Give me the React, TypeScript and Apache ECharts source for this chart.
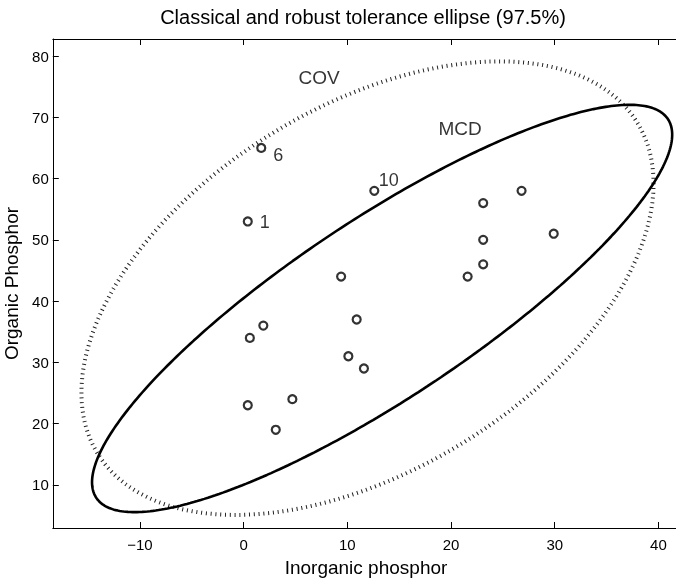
import React, { useEffect, useRef } from "react";
import * as echarts from "echarts";

// Data: phosphor content of soil samples
const inorganicPhosphor = [0.4, 0.4, 3.1, 0.6, 4.7, 1.7, 9.4, 10.1, 11.6, 12.6, 10.9, 23.1, 23.1, 21.6, 23.1, 1.9, 26.8, 29.9];
const organicPhosphor = [53, 23, 19, 34, 24, 65, 44, 31, 29, 58, 37, 46, 50, 44, 56, 36, 58, 51];
// observations flagged (and excluded from the robust MCD estimate)
const outlierIds = [1, 6, 10];
const toleranceLevel = 0.975;

const xTicks = [-10, 0, 10, 20, 30, 40];
const yTicks = [10, 20, 30, 40, 50, 60, 70, 80];

const X_MIN = -18.4;
const X_MAX = 42;
const Y_MIN = 2.97;
const Y_MAX = 82.78;

// label placement (pixels) for the flagged observations
const idLabelOffsets: Record<number, [number, number]> = {
  1: [17, 1],
  6: [17, 7.5],
  10: [14.5, -10.7],
};

const FONT = "'Liberation Sans', Arial, Helvetica, sans-serif";

function meanCov(xs: number[], ys: number[]) {
  const n = xs.length;
  const mx = xs.reduce((a, b) => a + b, 0) / n;
  const my = ys.reduce((a, b) => a + b, 0) / n;
  let sxx = 0, sxy = 0, syy = 0;
  for (let i = 0; i < n; i++) {
    sxx += (xs[i] - mx) ** 2;
    syy += (ys[i] - my) ** 2;
    sxy += (xs[i] - mx) * (ys[i] - my);
  }
  return { mx, my, sxx: sxx / (n - 1), sxy: sxy / (n - 1), syy: syy / (n - 1) };
}

function ellipsePoints(e: { mx: number; my: number; sxx: number; sxy: number; syy: number }, c2: number, steps = 400) {
  const a = Math.sqrt(e.sxx);
  const b = e.sxy / a;
  const d = Math.sqrt(e.syy - b * b);
  const r = Math.sqrt(c2);
  const pts: number[][] = [];
  for (let k = 0; k <= steps; k++) {
    const t = (2 * Math.PI * k) / steps;
    const u = Math.cos(t), v = Math.sin(t);
    pts.push([e.mx + r * a * u, e.my + r * (b * u + d * v)]);
  }
  return pts;
}

export default function App() {
  const ref = useRef<HTMLDivElement>(null);
  useEffect(() => {
    if (!ref.current) return;
    const chart = echarts.init(ref.current, undefined, { renderer: "svg" });
    const chi2 = -2 * Math.log(1 - toleranceLevel);
    const classical = meanCov(inorganicPhosphor, organicPhosphor);
    const keepX = inorganicPhosphor.filter((_, i) => !outlierIds.includes(i + 1));
    const keepY = organicPhosphor.filter((_, i) => !outlierIds.includes(i + 1));
    const robust = meanCov(keepX, keepY);
    const covEllipse = ellipsePoints(classical, chi2);
    const mcdEllipse = ellipsePoints(robust, chi2);

    const pointData = inorganicPhosphor.map((x, i) => {
      const id = i + 1;
      const item: any = { value: [x, organicPhosphor[i]] };
      if (outlierIds.includes(id)) {
        item.label = {
          show: true,
          formatter: String(id),
          position: "inside",
          offset: idLabelOffsets[id],
          color: "#000",
          textBorderWidth: 0,
          fontSize: 18,
          fontFamily: FONT,
        };
      }
      return item;
    });

    const fmt = (v: number) => String(v).replace("-", "\u2212");
    const baseAxis = {
      type: "value" as const,
      axisLine: { show: true, onZero: false, lineStyle: { color: "#000", width: 1 } },
      splitLine: { show: false },
    };

    chart.setOption({
      animation: false,
      grid: { left: 52.8, right: -3.2, top: 39, bottom: 51, containLabel: false, outerBoundsMode: "none" },
      graphic: [
        {
          type: "text",
          x: 363,
          y: 16.5,
          style: {
            text: "Classical and robust tolerance ellipse (97.5%)",
            fontSize: 20,
            fontFamily: FONT,
            fill: "#000",
            align: "center",
            verticalAlign: "middle",
          },
        },
      ],
      xAxis: [
        {
          ...baseAxis,
          min: X_MIN,
          max: X_MAX,
          position: "bottom",
          name: "Inorganic phosphor",
          nameLocation: "middle",
          nameGap: 30,
          nameTextStyle: { color: "#000", fontSize: 19, fontFamily: FONT },
          axisTick: { show: true, inside: true, length: 6, customValues: xTicks, lineStyle: { color: "#000" } },
          axisLabel: { show: true, customValues: xTicks, formatter: fmt, color: "#000", fontSize: 15, fontFamily: FONT, margin: 9 },
        },
        {
          ...baseAxis,
          min: X_MIN,
          max: X_MAX,
          position: "top",
          axisTick: { show: true, inside: true, length: 6, customValues: xTicks, lineStyle: { color: "#000" } },
          axisLabel: { show: false, customValues: xTicks },
        },
      ],
      yAxis: [
        {
          ...baseAxis,
          min: Y_MIN,
          max: Y_MAX,
          position: "left",
          name: "Organic Phosphor",
          nameLocation: "middle",
          nameGap: 15,
          nameTextStyle: { color: "#000", fontSize: 19, fontFamily: FONT },
          axisTick: { show: true, inside: true, length: 6, customValues: yTicks, lineStyle: { color: "#000" } },
          axisLabel: { show: true, customValues: yTicks, formatter: fmt, color: "#000", fontSize: 15, fontFamily: FONT, margin: 4 },
        },
        {
          ...baseAxis,
          min: Y_MIN,
          max: Y_MAX,
          position: "right",
          axisTick: { show: false },
          axisLabel: { show: false },
        },
      ],
      series: [
        {
          name: "COV",
          type: "line",
          data: covEllipse,
          showSymbol: false,
          smooth: false,
          silent: true,
          lineStyle: { color: "#222", width: 4, type: [1, 3.8], cap: "butt" },
          z: 2,
        },
        {
          name: "MCD",
          type: "line",
          data: mcdEllipse,
          showSymbol: false,
          smooth: false,
          silent: true,
          lineStyle: { color: "#000", width: 2.6 },
          z: 3,
        },
        {
          name: "points",
          type: "scatter",
          data: pointData,
          symbol: "circle",
          symbolSize: 8,
          itemStyle: { color: "rgba(0,0,0,0)", borderColor: "#000", borderWidth: 2.2 },
          z: 5,
        },
        {
          name: "annotations",
          type: "scatter",
          silent: true,
          symbolSize: 1,
          itemStyle: { color: "rgba(0,0,0,0)" },
          label: {
            show: true,
            position: "inside",
            formatter: "{b}",
            color: "#000",
            textBorderWidth: 0,
            fontSize: 19,
            fontFamily: FONT,
          },
          data: [
            { name: "COV", value: [7.27, 76.57] },
            { name: "MCD", value: [20.87, 68.17] },
          ],
          z: 6,
        },
      ],
    });
    return () => chart.dispose();
  }, []);
  return <div ref={ref} style={{ position: "fixed", left: 0, top: 0, width: 676, height: 579 }} />;
}
